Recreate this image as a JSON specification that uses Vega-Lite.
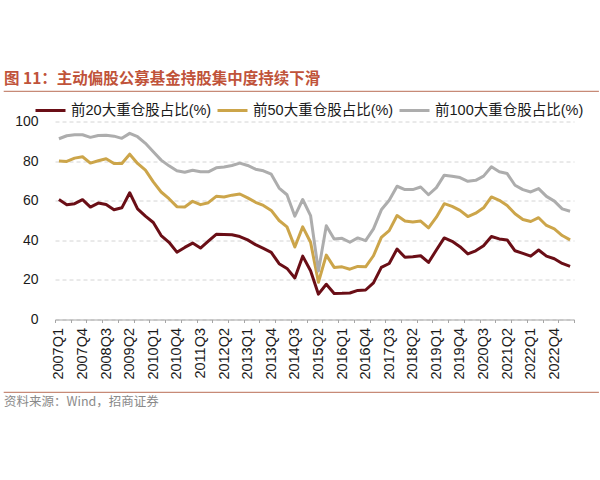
{
  "$schema": "https://vega.github.io/schema/vega-lite/v6.json",
  "background": "white",
  "autosize": {"type": "pad"},
  "padding": {"left": 3, "right": 3, "top": 70, "bottom": 10},
  "config": {
    "font": "Liberation Sans, Noto Sans CJK SC"
  },
  "datasets": {
    "share": [
      {"q": "2007Q1", "i": 0, "前20大重仓股占比(%)": 60.6, "前50大重仓股占比(%)": 80.0, "前100大重仓股占比(%)": 91.3},
      {"q": "2007Q2", "i": 1, "前20大重仓股占比(%)": 58.0, "前50大重仓股占比(%)": 79.8, "前100大重仓股占比(%)": 92.8},
      {"q": "2007Q3", "i": 2, "前20大重仓股占比(%)": 58.5, "前50大重仓股占比(%)": 81.5, "前100大重仓股占比(%)": 93.3},
      {"q": "2007Q4", "i": 3, "前20大重仓股占比(%)": 60.5, "前50大重仓股占比(%)": 82.2, "前100大重仓股占比(%)": 93.3},
      {"q": "2008Q1", "i": 4, "前20大重仓股占比(%)": 56.8, "前50大重仓股占比(%)": 79.0, "前100大重仓股占比(%)": 92.0},
      {"q": "2008Q2", "i": 5, "前20大重仓股占比(%)": 58.8, "前50大重仓股占比(%)": 80.2, "前100大重仓股占比(%)": 92.9},
      {"q": "2008Q3", "i": 6, "前20大重仓股占比(%)": 58.1, "前50大重仓股占比(%)": 81.2, "前100大重仓股占比(%)": 93.0},
      {"q": "2008Q4", "i": 7, "前20大重仓股占比(%)": 55.4, "前50大重仓股占比(%)": 78.8, "前100大重仓股占比(%)": 92.6},
      {"q": "2009Q1", "i": 8, "前20大重仓股占比(%)": 56.4, "前50大重仓股占比(%)": 78.8, "前100大重仓股占比(%)": 91.5},
      {"q": "2009Q2", "i": 9, "前20大重仓股占比(%)": 64.0, "前50大重仓股占比(%)": 83.5, "前100大重仓股占比(%)": 94.0},
      {"q": "2009Q3", "i": 10, "前20大重仓股占比(%)": 55.9, "前50大重仓股占比(%)": 78.8, "前100大重仓股占比(%)": 92.3},
      {"q": "2009Q4", "i": 11, "前20大重仓股占比(%)": 52.2, "前50大重仓股占比(%)": 75.4, "前100大重仓股占比(%)": 89.0},
      {"q": "2010Q1", "i": 12, "前20大重仓股占比(%)": 49.0, "前50大重仓股占比(%)": 69.5, "前100大重仓股占比(%)": 84.7},
      {"q": "2010Q2", "i": 13, "前20大重仓股占比(%)": 42.4, "前50大重仓股占比(%)": 64.4, "前100大重仓股占比(%)": 80.5},
      {"q": "2010Q3", "i": 14, "前20大重仓股占比(%)": 39.0, "前50大重仓股占比(%)": 61.0, "前100大重仓股占比(%)": 77.6},
      {"q": "2010Q4", "i": 15, "前20大重仓股占比(%)": 34.0, "前50大重仓股占比(%)": 57.0, "前100大重仓股占比(%)": 75.1},
      {"q": "2011Q1", "i": 16, "前20大重仓股占比(%)": 36.4, "前50大重仓股占比(%)": 56.8, "前100大重仓股占比(%)": 74.4},
      {"q": "2011Q2", "i": 17, "前20大重仓股占比(%)": 38.6, "前50大重仓股占比(%)": 59.7, "前100大重仓股占比(%)": 75.4},
      {"q": "2011Q3", "i": 18, "前20大重仓股占比(%)": 36.1, "前50大重仓股占比(%)": 58.0, "前100大重仓股占比(%)": 74.6},
      {"q": "2011Q4", "i": 19, "前20大重仓股占比(%)": 39.6, "前50大重仓股占比(%)": 59.0, "前100大重仓股占比(%)": 74.6},
      {"q": "2012Q1", "i": 20, "前20大重仓股占比(%)": 43.0, "前50大重仓股占比(%)": 62.2, "前100大重仓股占比(%)": 76.6},
      {"q": "2012Q2", "i": 21, "前20大重仓股占比(%)": 42.9, "前50大重仓股占比(%)": 61.9, "前100大重仓股占比(%)": 77.0},
      {"q": "2012Q3", "i": 22, "前20大重仓股占比(%)": 42.8, "前50大重仓股占比(%)": 62.8, "前100大重仓股占比(%)": 77.8},
      {"q": "2012Q4", "i": 23, "前20大重仓股占比(%)": 41.9, "前50大重仓股占比(%)": 63.4, "前100大重仓股占比(%)": 79.0},
      {"q": "2013Q1", "i": 24, "前20大重仓股占比(%)": 40.2, "前50大重仓股占比(%)": 61.4, "前100大重仓股占比(%)": 77.8},
      {"q": "2013Q2", "i": 25, "前20大重仓股占比(%)": 37.8, "前50大重仓股占比(%)": 59.2, "前100大重仓股占比(%)": 75.9},
      {"q": "2013Q3", "i": 26, "前20大重仓股占比(%)": 35.9, "前50大重仓股占比(%)": 57.6, "前100大重仓股占比(%)": 75.1},
      {"q": "2013Q4", "i": 27, "前20大重仓股占比(%)": 33.9, "前50大重仓股占比(%)": 55.1, "前100大重仓股占比(%)": 73.4},
      {"q": "2014Q1", "i": 28, "前20大重仓股占比(%)": 28.2, "前50大重仓股占比(%)": 50.0, "前100大重仓股占比(%)": 66.4},
      {"q": "2014Q2", "i": 29, "前20大重仓股占比(%)": 25.8, "前50大重仓股占比(%)": 46.8, "前100大重仓股占比(%)": 63.0},
      {"q": "2014Q3", "i": 30, "前20大重仓股占比(%)": 21.0, "前50大重仓股占比(%)": 36.6, "前100大重仓股占比(%)": 52.2},
      {"q": "2014Q4", "i": 31, "前20大重仓股占比(%)": 32.0, "前50大重仓股占比(%)": 46.8, "前100大重仓股占比(%)": 60.6},
      {"q": "2015Q1", "i": 32, "前20大重仓股占比(%)": 24.6, "前50大重仓股占比(%)": 39.0, "前100大重仓股占比(%)": 52.5},
      {"q": "2015Q2", "i": 33, "前20大重仓股占比(%)": 12.8, "前50大重仓股占比(%)": 18.8, "前100大重仓股占比(%)": 24.5},
      {"q": "2015Q3", "i": 34, "前20大重仓股占比(%)": 17.8, "前50大重仓股占比(%)": 32.5, "前100大重仓股占比(%)": 47.3},
      {"q": "2015Q4", "i": 35, "前20大重仓股占比(%)": 13.1, "前50大重仓股占比(%)": 26.3, "前100大重仓股占比(%)": 40.7},
      {"q": "2016Q1", "i": 36, "前20大重仓股占比(%)": 13.2, "前50大重仓股占比(%)": 26.6, "前100大重仓股占比(%)": 41.0},
      {"q": "2016Q2", "i": 37, "前20大重仓股占比(%)": 13.4, "前50大重仓股占比(%)": 25.4, "前100大重仓股占比(%)": 39.0},
      {"q": "2016Q3", "i": 38, "前20大重仓股占比(%)": 14.7, "前50大重仓股占比(%)": 26.8, "前100大重仓股占比(%)": 41.2},
      {"q": "2016Q4", "i": 39, "前20大重仓股占比(%)": 14.9, "前50大重仓股占比(%)": 26.6, "前100大重仓股占比(%)": 39.8},
      {"q": "2017Q1", "i": 40, "前20大重仓股占比(%)": 18.5, "前50大重仓股占比(%)": 32.2, "前100大重仓股占比(%)": 45.8},
      {"q": "2017Q2", "i": 41, "前20大重仓股占比(%)": 26.3, "前50大重仓股占比(%)": 41.5, "前100大重仓股占比(%)": 55.4},
      {"q": "2017Q3", "i": 42, "前20大重仓股占比(%)": 28.3, "前50大重仓股占比(%)": 44.9, "前100大重仓股占比(%)": 60.2},
      {"q": "2017Q4", "i": 43, "前20大重仓股占比(%)": 35.6, "前50大重仓股占比(%)": 52.5, "前100大重仓股占比(%)": 67.3},
      {"q": "2018Q1", "i": 44, "前20大重仓股占比(%)": 31.4, "前50大重仓股占比(%)": 49.7, "前100大重仓股占比(%)": 65.6},
      {"q": "2018Q2", "i": 45, "前20大重仓股占比(%)": 31.7, "前50大重仓股占比(%)": 49.2, "前100大重仓股占比(%)": 65.6},
      {"q": "2018Q3", "i": 46, "前20大重仓股占比(%)": 32.2, "前50大重仓股占比(%)": 49.7, "前100大重仓股占比(%)": 66.9},
      {"q": "2018Q4", "i": 47, "前20大重仓股占比(%)": 28.8, "前50大重仓股占比(%)": 46.3, "前100大重仓股占比(%)": 63.0},
      {"q": "2019Q1", "i": 48, "前20大重仓股占比(%)": 35.1, "前50大重仓股占比(%)": 51.7, "前100大重仓股占比(%)": 66.6},
      {"q": "2019Q2", "i": 49, "前20大重仓股占比(%)": 41.2, "前50大重仓股占比(%)": 58.5, "前100大重仓股占比(%)": 72.9},
      {"q": "2019Q3", "i": 50, "前20大重仓股占比(%)": 39.5, "前50大重仓股占比(%)": 57.1, "前100大重仓股占比(%)": 72.4},
      {"q": "2019Q4", "i": 51, "前20大重仓股占比(%)": 36.8, "前50大重仓股占比(%)": 55.1, "前100大重仓股占比(%)": 71.7},
      {"q": "2020Q1", "i": 52, "前20大重仓股占比(%)": 33.1, "前50大重仓股占比(%)": 52.0, "前100大重仓股占比(%)": 69.8},
      {"q": "2020Q2", "i": 53, "前20大重仓股占比(%)": 34.7, "前50大重仓股占比(%)": 53.7, "前100大重仓股占比(%)": 70.3},
      {"q": "2020Q3", "i": 54, "前20大重仓股占比(%)": 37.3, "前50大重仓股占比(%)": 56.4, "前100大重仓股占比(%)": 72.4},
      {"q": "2020Q4", "i": 55, "前20大重仓股占比(%)": 41.9, "前50大重仓股占比(%)": 61.9, "前100大重仓股占比(%)": 77.1},
      {"q": "2021Q1", "i": 56, "前20大重仓股占比(%)": 40.7, "前50大重仓股占比(%)": 60.2, "前100大重仓股占比(%)": 74.6},
      {"q": "2021Q2", "i": 57, "前20大重仓股占比(%)": 40.2, "前50大重仓股占比(%)": 57.6, "前100大重仓股占比(%)": 73.7},
      {"q": "2021Q3", "i": 58, "前20大重仓股占比(%)": 34.7, "前50大重仓股占比(%)": 53.4, "前100大重仓股占比(%)": 67.8},
      {"q": "2021Q4", "i": 59, "前20大重仓股占比(%)": 33.4, "前50大重仓股占比(%)": 50.5, "前100大重仓股占比(%)": 65.6},
      {"q": "2022Q1", "i": 60, "前20大重仓股占比(%)": 32.0, "前50大重仓股占比(%)": 49.5, "前100大重仓股占比(%)": 64.4},
      {"q": "2022Q2", "i": 61, "前20大重仓股占比(%)": 35.1, "前50大重仓股占比(%)": 51.4, "前100大重仓股占比(%)": 66.1},
      {"q": "2022Q3", "i": 62, "前20大重仓股占比(%)": 32.0, "前50大重仓股占比(%)": 47.5, "前100大重仓股占比(%)": 62.2},
      {"q": "2022Q4", "i": 63, "前20大重仓股占比(%)": 30.7, "前50大重仓股占比(%)": 45.8, "前100大重仓股占比(%)": 59.8},
      {"q": "2023Q1", "i": 64, "前20大重仓股占比(%)": 28.3, "前50大重仓股占比(%)": 42.4, "前100大重仓股占比(%)": 55.9},
      {"q": "2023Q2", "i": 65, "前20大重仓股占比(%)": 26.8, "前50大重仓股占比(%)": 40.2, "前100大重仓股占比(%)": 54.7}
    ]
  },
  "spacing": 11,
  "vconcat": [
    {
      "spacing": 22.5,
      "vconcat": [
        {
          "title": {
            "text": "图 11：主动偏股公募基金持股集中度持续下滑",
            "anchor": "start",
            "frame": "group",
            "font": "Noto Sans CJK SC",
            "fontSize": 15.5,
            "fontWeight": "bold",
            "color": "#C0533A",
            "offset": 4
          },
          "width": 594,
          "height": 0.01,
          "data": {"values": []},
          "mark": "point",
          "view": {"stroke": "#C78A77", "strokeWidth": 1.2}
        },
        {
          "width": 594,
          "height": 198,
          "data": {"name": "share"},
          "transform": [
            {"fold": ["前20大重仓股占比(%)", "前50大重仓股占比(%)", "前100大重仓股占比(%)"], "as": ["series", "value"]}
          ],
          "mark": {"type": "line", "strokeWidth": 3, "strokeJoin": "round"},
          "encoding": {
            "x": {
              "field": "i",
              "type": "quantitative",
              "scale": {"domain": [-0.5, 65.5], "range": [51, 570], "nice": false, "zero": false},
              "axis": {
                "title": null,
                "grid": false,
                "values": [-0.5, 0, 1.5, 3, 3.5, 5.5, 6, 7.5, 9, 9.5, 11.5, 12, 13.5, 15, 15.5, 17.5, 18, 19.5, 21, 21.5, 23.5, 24, 25.5, 27, 27.5, 29.5, 30, 31.5, 33, 33.5, 35.5, 36, 37.5, 39, 39.5, 41.5, 42, 43.5, 45, 45.5, 47.5, 48, 49.5, 51, 51.5, 53.5, 54, 55.5, 57, 57.5, 59.5, 60, 61.5, 63, 63.5, 65.5],
                "labelExpr": "datum.value % 3 == 0 ? (2007 + floor(datum.value / 4)) + 'Q' + (datum.value % 4 + 1) : ''",
                "labelAngle": 270,
                "labelFontSize": 14.5,
                "labelColor": "#1a1a1a",
                "labelPadding": 5,
                "labelOverlap": false,
                "labelFlush": false,
                "labelBound": false,
                "domainColor": "#A6A6A6",
                "domainWidth": 1,
                "tickColor": "#A6A6A6",
                "tickSize": 3,
                "tickOpacity": {"condition": {"test": "datum.value % 1 != 0", "value": 1}, "value": 0}
              }
            },
            "y": {
              "field": "value",
              "type": "quantitative",
              "scale": {"domain": [0, 100], "nice": false},
              "axis": {
                "title": null,
                "values": [0, 20, 40, 60, 80, 100],
                "offset": -51,
                "domain": false,
                "ticks": false,
                "labelPadding": 17,
                "labelFontSize": 14,
                "labelColor": "#1a1a1a",
                "grid": true,
                "gridColor": "#D4D4D4",
                "gridDash": [4, 3],
                "gridWidth": 1
              }
            },
            "color": {
              "field": "series",
              "type": "nominal",
              "scale": {
                "domain": ["前20大重仓股占比(%)", "前50大重仓股占比(%)", "前100大重仓股占比(%)"],
                "range": ["#6A0E16", "#CCA54A", "#ADADAD"]
              },
              "legend": {
                "title": null,
                "orient": "none",
                "legendX": 30,
                "legendY": 3,
                "direction": "horizontal",
                "columns": 3,
                "gridAlign": "none",
                "symbolType": "stroke",
                "symbolSize": 900,
                "symbolStrokeWidth": 3,
                "labelFontSize": 14.5,
                "labelColor": "#1a1a1a",
                "labelOffset": 4,
                "labelLimit": 0,
                "columnPadding": -1
              }
            }
          },
          "view": {"stroke": null}
        }
      ]
    },
    {
      "title": {
        "text": "资料来源：Wind，招商证券",
        "orient": "bottom",
        "anchor": "start",
        "frame": "group",
        "font": "Noto Sans CJK SC",
        "fontSize": 12.5,
        "fontWeight": "normal",
        "color": "#8A8A8A",
        "offset": 4
      },
      "width": 594,
      "height": 0.01,
      "data": {"values": []},
      "mark": "point",
      "view": {"stroke": "#C78A77", "strokeWidth": 1.2}
    }
  ]
}
